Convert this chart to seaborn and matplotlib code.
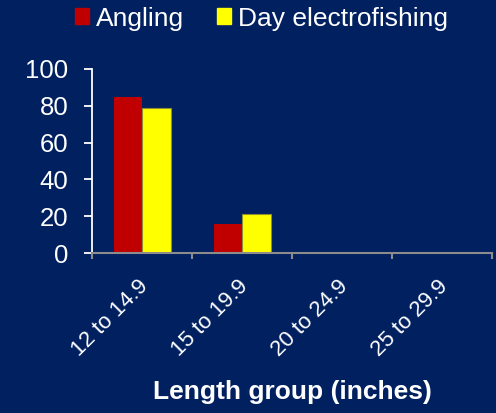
import numpy as np
import pandas as pd
import matplotlib
matplotlib.use("Agg")
import matplotlib.pyplot as plt
import matplotlib.transforms as mtransforms
import seaborn as sns

# data
groups = ["12 to 14.9", "15 to 19.9", "20 to 24.9", "25 to 29.9"]
angling = [85, 16, 0, 0]
day_electro = [79, 21, 0, 0]
methods = ["Angling", "Day electrofishing"]
colors = ["#C00000", "#FFFF00"]

bg = "#002060"

df = pd.DataFrame({
    "group": groups * 2,
    "method": [methods[0]] * len(groups) + [methods[1]] * len(groups),
    "pct": angling + day_electro,
})

sns.set_style("white")
plt.rcParams["font.family"] = ["Liberation Sans", "DejaVu Sans"]

fig = plt.figure(figsize=(4.96, 4.13), dpi=100, facecolor=bg)
ax = fig.add_axes([0.1855, 0.3874, 0.8065, 0.4456])
ax.set_facecolor(bg)

sns.barplot(data=df, x="group", y="pct", hue="method", order=groups,
            hue_order=methods, palette=dict(zip(methods, colors)),
            width=0.57, gap=0, linewidth=0, saturation=1, ax=ax)

# thin olive outline on the yellow bars, like the original
for bar in ax.containers[1]:
    bar.set_edgecolor("#8f8f30")
    bar.set_linewidth(0.8)

ax.set_ylim(0, 100)
ax.set_xlim(-0.5, 3.5)
ax.set_yticks(np.arange(0, 101, 20))

for s in ["top", "right"]:
    ax.spines[s].set_visible(False)
ax.spines["left"].set_color("white")
ax.spines["left"].set_linewidth(1.3)
ax.spines["bottom"].set_color("#8c8c8c")
ax.spines["bottom"].set_linewidth(1.5)

ax.tick_params(axis="y", colors="white", labelsize=18.5, length=6, width=1.3,
               direction="out", pad=11, left=True)
ax.tick_params(axis="x", which="major", length=0, labelcolor="white",
               labelsize=16, pad=22)
ax.set_xticks(np.arange(-0.5, 3.6, 1), minor=True)
ax.tick_params(axis="x", which="minor", length=4, width=1.5,
               color="#8c8c8c", direction="out", bottom=True)
shift = mtransforms.ScaledTranslation(3 / 100, 0, fig.dpi_scale_trans)
for lab in ax.get_xticklabels():
    lab.set_rotation(45)
    lab.set_ha("right")
    lab.set_va("center")
    lab.set_rotation_mode("anchor")
    lab.set_transform(lab.get_transform() + shift)

ax.set_ylabel("")
ax.set_xlabel("Length group (inches)", color="white", fontsize=19,
              fontweight="bold", labelpad=14)

ax.get_legend().remove()
handles = [plt.Rectangle((0, 0), 1, 1, color=c) for c in colors]
fig.legend(handles, methods, loc="center", bbox_to_anchor=(0.527, 0.955),
           ncol=2, frameon=False, fontsize=19, labelcolor="white",
           handlelength=0.55, handleheight=0.55, handletextpad=0.25,
           columnspacing=1.25)

fig.savefig("out.png", dpi=100, facecolor=bg)
